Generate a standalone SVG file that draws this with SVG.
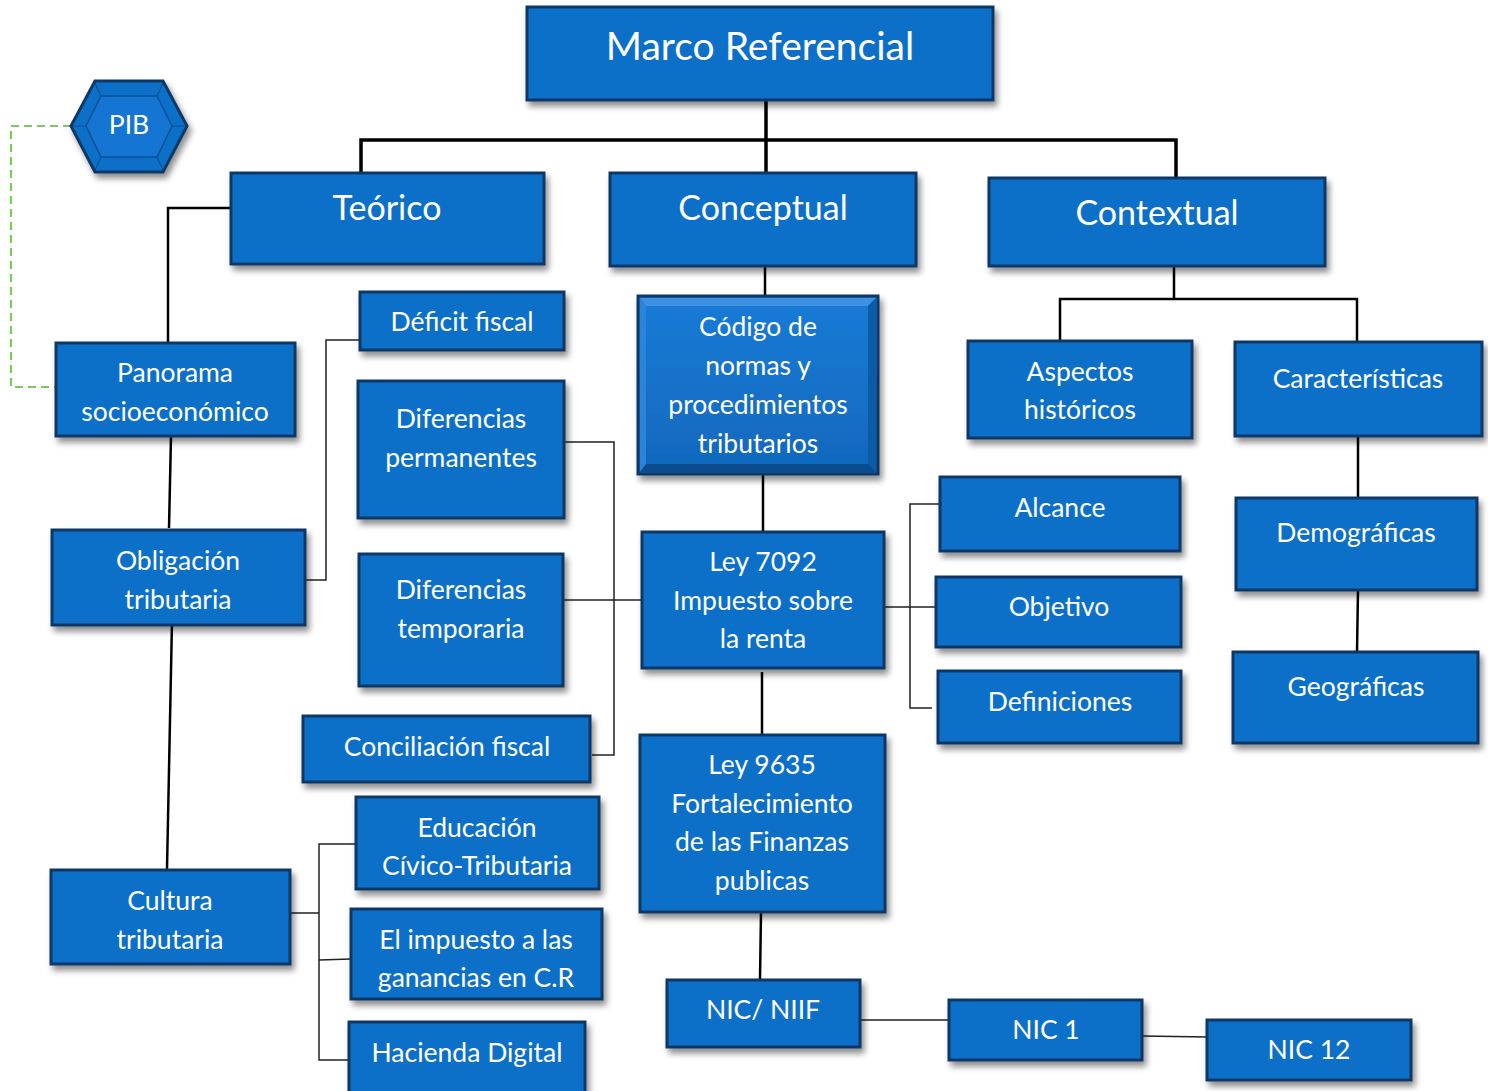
<svg xmlns="http://www.w3.org/2000/svg" width="1488" height="1091" viewBox="0 0 1488 1091">
<style>
.box{fill:#1170C8;stroke:#0E3966;stroke-width:3;filter:url(#sh)}
.t{fill:#FFFFFF;font-family:Lato,"Liberation Sans",sans-serif;font-size:26.5px;text-anchor:middle}
.t1{font-size:39px}
.t2{font-size:34px}
.c3{fill:none;stroke:#000;stroke-width:3.5}
.c2{fill:none;stroke:#000;stroke-width:2.5}
.c1{fill:none;stroke:#222;stroke-width:1.5}
.dash{fill:none;stroke:#7CC95C;stroke-width:2.2;stroke-dasharray:8 5}
</style>
<defs>
<filter id="sh" x="-10%" y="-10%" width="125%" height="135%">
<feGaussianBlur in="SourceAlpha" stdDeviation="3"/>
<feOffset dx="3" dy="5" result="b"/>
<feComponentTransfer><feFuncA type="linear" slope="0.45"/></feComponentTransfer>
<feMerge><feMergeNode/><feMergeNode in="SourceGraphic"/></feMerge>
</filter>
<linearGradient id="cg" x1="0" y1="0" x2="0" y2="1">
<stop offset="0" stop-color="#1A7BD6"/><stop offset="1" stop-color="#1068BC"/>
</linearGradient>
</defs>
<rect width="1488" height="1091" fill="#FFFFFF"/>
<g id="connectors">
<path class="c3" d="M766 100 V140 M361 173 V140 H1176 V183 M766 140 V173"/>
<path class="c2" d="M231 208 H168 V343"/>
<path class="dash" d="M71 126 H11 V387 H57"/>
<path class="c2" d="M171 436 L169 528 M172 621 L167 869"/>
<path class="c1" d="M305 580 H326 V340 H370"/>
<path class="c1" d="M564 442 H614 V755 H592 M563 600 H643"/>
<path class="c2" d="M765 266 V296 M763 474 V532 M762 672 V735 M761 912 L760 979"/>
<path class="c1" d="M884 607 H940 M940 504 H910 V708 H932"/>
<path class="c1" d="M860 1020 H953 M1142 1036 L1208 1037"/>
<path class="c2" d="M1174 266 V298 M1060 343 V299 H1357 V344 M1358 434 V498 M1358 590 L1357 652"/>
<path class="c1" d="M290 913 H319 M357 844 H319 V1060 H349 M319 960 L351 959"/>
</g>
<g id="n-marco"><rect class="box" x="527" y="7" width="466" height="93"/><text class="t t1" x="760" y="60">Marco Referencial</text></g>
<g id="n-pib">
<polygon points="71,126 95,81 163,81 187,126 163,172 95,172" fill="#1170C8" stroke="#0E3966" stroke-width="3" filter="url(#sh)"/>
<polygon points="86,126 101,96 157,96 172,126 157,157 101,157" fill="#1476D2" stroke="#0C4F94" stroke-width="1.5"/>
<path d="M95,83 L101,96 M163,83 L157,96 M73,126 H86 M185,126 H172 M95,170 L101,157 M163,170 L157,157" stroke="#0C4F94" stroke-width="1.2"/>
<text class="t" x="129" y="134">PIB</text>
</g>
<g id="n-teorico"><rect class="box" x="231" y="173" width="313" height="91"/><text class="t t2" x="387" y="220">Teórico</text></g>
<g id="n-conceptual"><rect class="box" x="610" y="173" width="306" height="93"/><text class="t t2" x="763" y="220">Conceptual</text></g>
<g id="n-contextual"><rect class="box" x="989" y="178" width="336" height="88"/><text class="t t2" x="1157" y="225">Contextual</text></g>
<g id="n-panorama"><rect class="box" x="56" y="343" width="239" height="93"/><text class="t" x="175" y="382">Panorama</text><text class="t" x="175" y="421">socioeconómico</text></g>
<g id="n-obligacion"><rect class="box" x="52" y="530" width="253" height="95"/><text class="t" x="178" y="570">Obligación</text><text class="t" x="178" y="609">tributaria</text></g>
<g id="n-cultura"><rect class="box" x="51" y="870" width="239" height="94"/><text class="t" x="170" y="910">Cultura</text><text class="t" x="170" y="949">tributaria</text></g>
<g id="n-deficit"><rect class="box" x="360" y="292" width="204" height="58"/><text class="t" x="462" y="331">Déficit fiscal</text></g>
<g id="n-difperm"><rect class="box" x="358" y="381" width="206" height="137"/><text class="t" x="461" y="428">Diferencias</text><text class="t" x="461" y="467">permanentes</text></g>
<g id="n-diftemp"><rect class="box" x="359" y="554" width="204" height="132"/><text class="t" x="461" y="599">Diferencias</text><text class="t" x="461" y="638">temporaria</text></g>
<g id="n-conciliacion"><rect class="box" x="303" y="716" width="287" height="66"/><text class="t" x="447" y="756">Conciliación fiscal</text></g>
<g id="n-educacion"><rect class="box" x="356" y="797" width="243" height="92"/><text class="t" x="477" y="837">Educación</text><text class="t" x="477" y="875">Cívico-Tributaria</text></g>
<g id="n-impuesto"><rect class="box" x="351" y="909" width="251" height="90"/><text class="t" x="476" y="949">El impuesto a las</text><text class="t" x="476" y="987">ganancias en C.R</text></g>
<g id="n-hacienda"><rect class="box" x="349" y="1022" width="236" height="75"/><text class="t" x="467" y="1062">Hacienda Digital</text></g>
<g id="n-codigo">
<rect class="box" x="638" y="296" width="240" height="178" style="fill:url(#cg)"/>
<polygon points="640,298 876,298 868,306 646,306" fill="#3C92E0"/>
<polygon points="640,298 646,306 646,464 640,472" fill="#2A84D8"/>
<polygon points="876,298 876,472 868,464 868,306" fill="#0B5BA8"/>
<polygon points="640,472 646,464 868,464 876,472" fill="#0A4C8E"/>
<text class="t" x="758" y="336">Código de</text><text class="t" x="758" y="375">normas y</text><text class="t" x="758" y="414">procedimientos</text><text class="t" x="758" y="453">tributarios</text>
</g>
<g id="n-ley7092"><rect class="box" x="642" y="532" width="242" height="136"/><text class="t" x="763" y="571">Ley 7092</text><text class="t" x="763" y="610">Impuesto sobre</text><text class="t" x="763" y="648">la renta</text></g>
<g id="n-ley9635"><rect class="box" x="640" y="735" width="245" height="177"/><text class="t" x="762" y="774">Ley 9635</text><text class="t" x="762" y="813">Fortalecimiento</text><text class="t" x="762" y="851">de las Finanzas</text><text class="t" x="762" y="890">publicas</text></g>
<g id="n-nicniif"><rect class="box" x="667" y="980" width="193" height="67"/><text class="t" x="763" y="1019">NIC/ NIIF</text></g>
<g id="n-nic1"><rect class="box" x="949" y="1000" width="193" height="60"/><text class="t" x="1046" y="1039">NIC 1</text></g>
<g id="n-nic12"><rect class="box" x="1207" y="1020" width="204" height="60"/><text class="t" x="1309" y="1059">NIC 12</text></g>
<g id="n-alcance"><rect class="box" x="940" y="477" width="240" height="74"/><text class="t" x="1060" y="517">Alcance</text></g>
<g id="n-objetivo"><rect class="box" x="936" y="577" width="245" height="70"/><text class="t" x="1059" y="616">Objetivo</text></g>
<g id="n-definiciones"><rect class="box" x="938" y="671" width="243" height="72"/><text class="t" x="1060" y="711">Definiciones</text></g>
<g id="n-aspectos"><rect class="box" x="968" y="341" width="224" height="97"/><text class="t" x="1080" y="381">Aspectos</text><text class="t" x="1080" y="419">históricos</text></g>
<g id="n-caracteristicas"><rect class="box" x="1235" y="342" width="247" height="94"/><text class="t" x="1358" y="388">Características</text></g>
<g id="n-demograficas"><rect class="box" x="1236" y="498" width="241" height="92"/><text class="t" x="1356" y="542">Demográficas</text></g>
<g id="n-geograficas"><rect class="box" x="1233" y="652" width="245" height="91"/><text class="t" x="1356" y="696">Geográficas</text></g>
</svg>
